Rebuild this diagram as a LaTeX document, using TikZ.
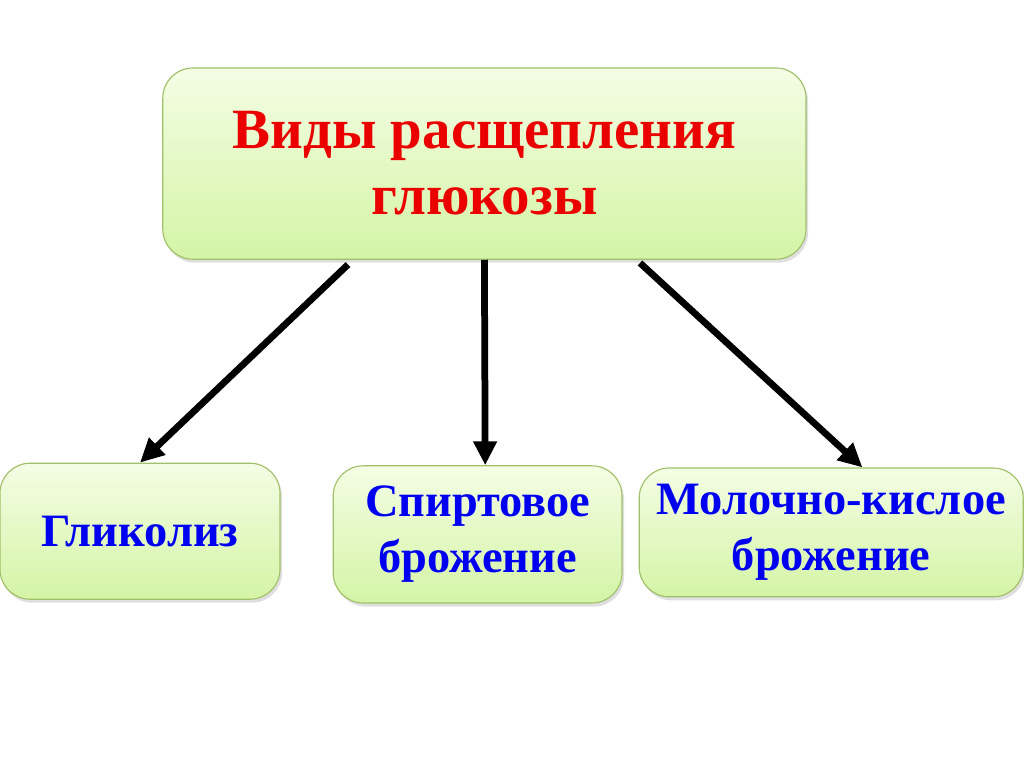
\documentclass[tikz,border=0pt]{standalone}
\usepackage{fontspec}
\setmainfont{Liberation Serif}
\usepackage{xcolor}
\definecolor{boxtop}{RGB}{244,253,228}
\definecolor{boxbottom}{RGB}{212,244,166}
\definecolor{boxedge}{RGB}{160,192,104}
\definecolor{titlered}{RGB}{235,0,0}
\definecolor{textblue}{RGB}{0,0,240}
\usetikzlibrary{arrows.meta,positioning,shadows,calc}

\begin{document}
\begin{tikzpicture}[
  greenbox/.style={draw=boxedge,line width=0.8pt,rounded corners=0.75cm,top color=boxtop,bottom color=boxbottom,
    drop shadow={opacity=0.25,shadow xshift=1.5pt,shadow yshift=-2.5pt},align=center,font=\bfseries},
  arr/.style={line width=4.8pt,-{Triangle[length=17pt,width=16pt]}}]
  \fill[white] (0,0) rectangle (25.6,-19.175);
  \useasboundingbox (0,0) rectangle (25.6,-19.175);
  % Top box
  \node[greenbox,minimum width=16.08cm,minimum height=4.78cm,text=titlered,
    font=\bfseries\fontsize{40.5}{47}\selectfont] (top) at (12.11,-4.09) {Виды расщепления\\глюкозы};
  % Bottom boxes
  \node[greenbox,minimum width=7.0cm,minimum height=3.4cm,text=textblue,
    font=\bfseries\fontsize{33}{40}\selectfont] (glyc) at (3.5,-13.28) {Гликолиз};
  \node[greenbox,minimum width=7.22cm,minimum height=3.43cm,text=textblue,
    font=\bfseries\fontsize{33}{40}\selectfont] (alc) at (11.94,-13.36) {Спиртовое\\брожение};
  \node[greenbox,minimum width=9.6cm,minimum height=3.22cm,text=textblue,
    font=\bfseries\fontsize{33}{40}\selectfont] (lact) at (20.78,-13.31) {Молочно-кислое\\брожение};
  % Arrows
  \draw[arr] ([xshift=-3.41cm,yshift=-0.12cm]top.south) -- (glyc.north);
  \draw[arr] (top.south) -- ([xshift=0.19cm]alc.north);
  \draw[arr] ([xshift=3.89cm,yshift=-0.08cm]top.south) -- ([xshift=0.78cm]lact.north);
\end{tikzpicture}
\end{document}
